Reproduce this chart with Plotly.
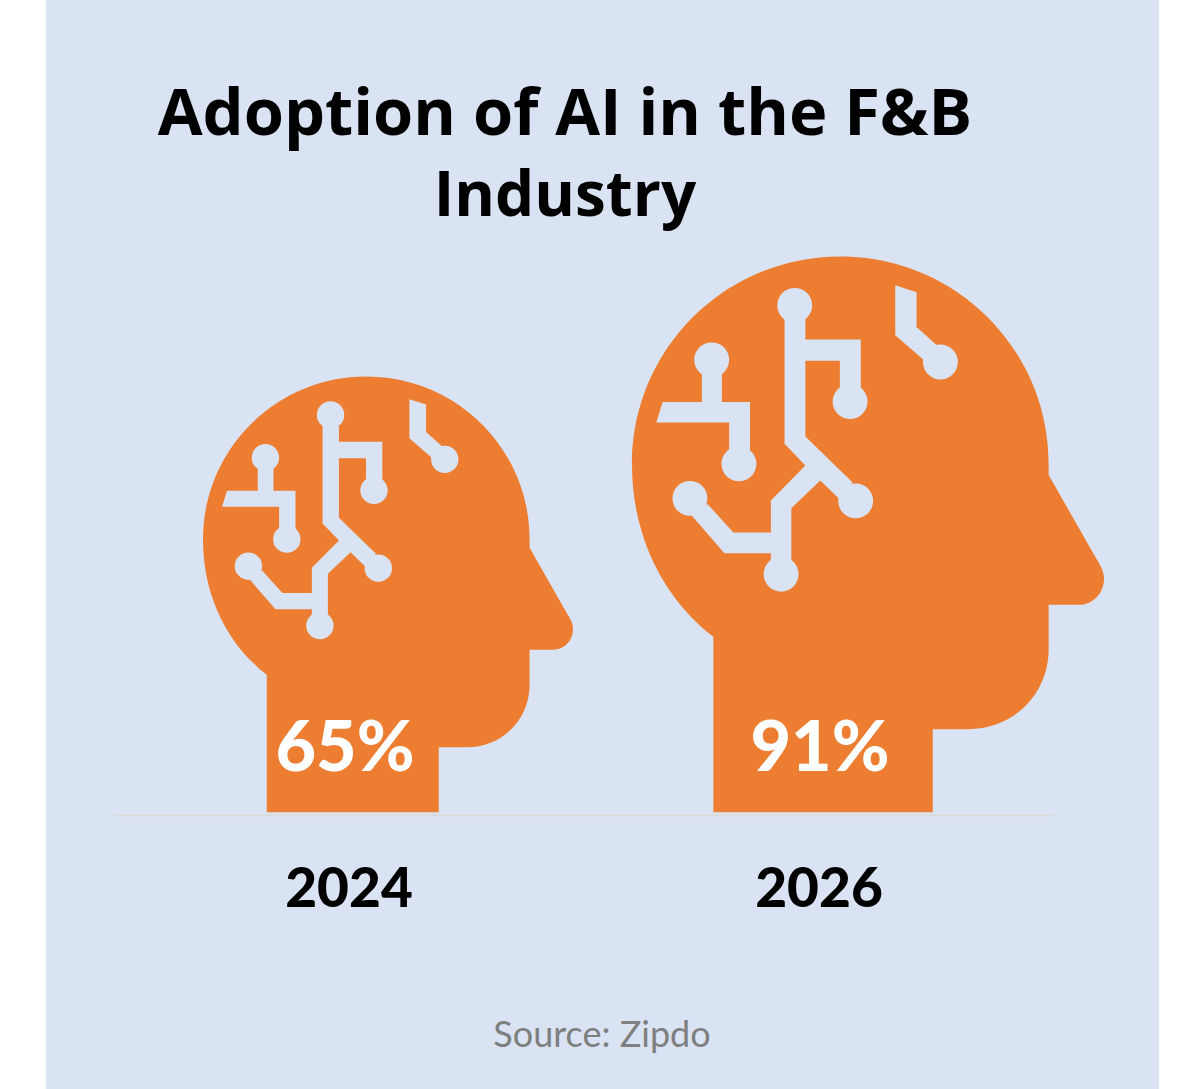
import plotly.graph_objects as go

# Datos
years = ['2024', '2026']
adoption_pct = [65, 91]

title_text = '<span style="font-size:65px">Adoption of AI in the F&B</span><br>Industry'
source_text = 'Source: Zipdo'

# Colores
page_bg = '#FFFFFF'
panel_bg = '#DAE3F3'
head_color = '#ED7D31'
baseline_color = '#D9D9D9'
source_color = '#7F7F7F'

# Donde va cada cabeza (pixeles de la pagina)
head_left = [203, 632]
head_width = [370, 472]
base_y = 812.3
label_x = [349, 819]
value_x = [345, 820]

# Pictograma: contorno de la cabeza, unidades propias
head_path = [
    ('M', 231, 1327), ('L', 231, 915),
    ('C', 114, 825, 40, 680, 40, 510),
    ('C', 40, 240, 258, 22, 529, 22),
    ('C', 800, 22, 1018, 240, 1018, 510),
    ('L', 1018, 535), ('L', 1128, 728),
    ('C', 1140, 748, 1148, 760, 1148, 778),
    ('C', 1148, 813, 1122, 840, 1088, 840),
    ('L', 1018, 840), ('L', 1018, 945),
    ('C', 1018, 1050, 935, 1132, 830, 1132),
    ('L', 746, 1132), ('L', 746, 1327),
]
glyph_left, glyph_right, glyph_bottom = 40, 1148, 1327

circuit_polys = [
    [(398, 165), (398, 462), (447, 513), (366, 595), (366, 670), (278, 670), (217, 603),
     (180, 630), (257, 719), (366, 719), (366, 745), (414, 745), (414, 613), (482, 548),
     (525, 590), (558, 553), (447, 445), (447, 267), (528, 267), (528, 335), (577, 335),
     (577, 217), (447, 217), (447, 165)],
    [(204, 290), (204, 364), (112, 364), (97, 412), (268, 412), (268, 485), (317, 485),
     (317, 364), (251, 364), (251, 290)],
    [(658, 90), (708, 106), (708, 188), (755, 230), (725, 265), (658, 207)],
]
circuit_nodes = [(422, 137), (552, 363), (176, 590), (390, 768), (565, 596),
                 (227, 265), (291, 509), (764, 270)]
node_r = 41


def make_head_shapes(left, width):
    """Escala el pictograma y lo devuelve como shapes en ejes x/y"""
    s = width / (glyph_right - glyph_left)
    px = lambda u: left + (u - glyph_left) * s
    py = lambda v: base_y - (glyph_bottom - v) * s

    d = ''
    for cmd in head_path:
        nums = cmd[1:]
        pairs = [f'{px(nums[i]):.2f},{py(nums[i + 1]):.2f}' for i in range(0, len(nums), 2)]
        d += cmd[0] + ' ' + ' '.join(pairs) + ' '
    shapes = [dict(type='path', xref='x', yref='y', path=d + 'Z',
                   fillcolor=head_color, line_width=0, layer='between')]

    # El circuito se pinta encima con el color del panel
    for poly in circuit_polys:
        d = 'M ' + ' L '.join(f'{px(u):.2f},{py(v):.2f}' for u, v in poly) + ' Z'
        shapes.append(dict(type='path', xref='x', yref='y', path=d,
                           fillcolor=panel_bg, line_width=0, layer='between'))
    for u, v in circuit_nodes:
        shapes.append(dict(type='circle', xref='x', yref='y',
                           x0=px(u - node_r), x1=px(u + node_r),
                           y0=py(v - node_r), y1=py(v + node_r),
                           fillcolor=panel_bg, line_width=0, layer='between'))
    return shapes


shapes = [
    dict(type='rect', xref='x', yref='y', x0=46, x1=1159, y0=0, y1=1089,
         fillcolor=panel_bg, line_width=0, layer='below'),
    dict(type='line', xref='x', yref='y', x0=114, x1=1054, y0=815.5, y1=815.5,
         line=dict(color=baseline_color, width=2), layer='below'),
]
for left, width in zip(head_left, head_width):
    shapes += make_head_shapes(left, width)

fig = go.Figure()

# Porcentajes dentro del cuello
fig.add_trace(go.Scatter(
    x=value_x,
    y=[753, 753],
    mode='text',
    text=[f'{v}%' for v in adoption_pct],
    textposition='middle center',
    textfont=dict(family='Lato', size=70, color='white', weight=900),
    hoverinfo='skip',
    showlegend=False,
))

# Años
fig.add_trace(go.Scatter(
    x=label_x,
    y=[893, 893],
    mode='text',
    text=years,
    textposition='middle center',
    textfont=dict(family='Lato', size=55, color='black', weight=900),
    hoverinfo='skip',
    showlegend=False,
))

# Fuente
fig.add_trace(go.Scatter(
    x=[602],
    y=[1038],
    mode='text',
    text=[source_text],
    textposition='middle center',
    textfont=dict(family='Lato', size=36, color=source_color),
    hoverinfo='skip',
    showlegend=False,
))

fig.update_layout(
    width=1200,
    height=1089,
    margin=dict(l=0, r=0, t=0, b=0),
    paper_bgcolor=page_bg,
    plot_bgcolor=page_bg,
    shapes=shapes,
    showlegend=False,
    title=dict(
        text=title_text,
        x=565 / 1200,
        xanchor='center',
        y=1 - 135 / 1089,
        yanchor='middle',
        font=dict(family='Open Sans', size=62, color='black', weight=700),
    ),
)
fig.update_xaxes(range=[0, 1200], visible=False, fixedrange=True)
fig.update_yaxes(range=[1089, 0], visible=False, fixedrange=True)

# Sin el margen del body para que la figura empiece en 0,0
fig.write_html('out.html', config={'displayModeBar': False},
               post_script="document.body.style.margin='0';")
